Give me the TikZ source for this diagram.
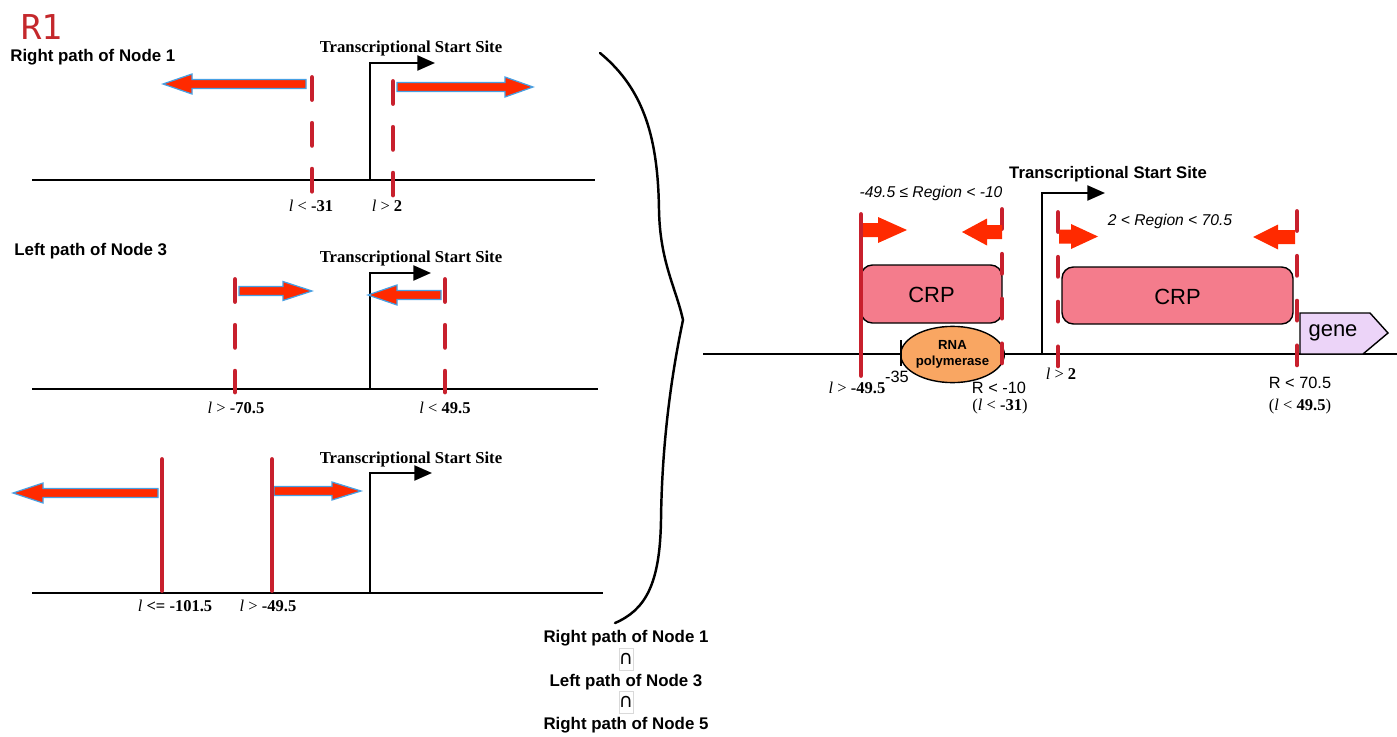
\documentclass[tikz,border=0pt]{standalone}
\usepackage{fontspec}
\setmainfont{Liberation Serif}
\setsansfont{Liberation Sans}
\newfontfamily\monofont{DejaVu Sans Mono}
\newfontfamily\symfont{DejaVu Sans}
\usepackage{tikz}
\usetikzlibrary{positioning, shapes.geometric, arrows.meta, calc}
\definecolor{cutred}{RGB}{200,32,45}
\definecolor{arrowred}{RGB}{255,42,0}
\definecolor{arrowblue}{RGB}{70,160,228}
\definecolor{crppink}{RGB}{244,124,140}
\definecolor{rnaporange}{RGB}{249,166,98}
\definecolor{genelilac}{RGB}{236,212,248}
\definecolor{labelred}{RGB}{196,40,44}
% block arrow: [style]{x from}{x to}{y}{half shaft}{half head}{head length}
\newcommand{\blockarrow}[7][]{%
  \pgfmathsetmacro{\hx}{#3>#2 ? #3-#7 : #3+#7}%
  \filldraw[#1] (#2,#4-#5) -- (\hx,#4-#5) -- (\hx,#4-#6) -- (#3,#4)
    -- (\hx,#4+#6) -- (\hx,#4+#5) -- (#2,#4+#5) -- cycle;}

\begin{document}
\begin{tikzpicture}[x=0.02cm, y=-0.02cm,
  strand/.style={line width=1.7pt},
  tssline/.style={line width=1.2pt, -{Triangle[length=10pt, width=8.5pt]}},
  cutline/.style={cutred, line width=2.8pt, line cap=round},
  cutdash/.style={cutline, dash pattern=on 12.5pt off 13.6pt},
  cutdashR/.style={cutline, dash pattern=on 10.8pt off 14.7pt},
  bluearrow/.style={fill=arrowred, draw=arrowblue, line width=0.7pt},
  redarrow/.style={fill=arrowred, draw=none},
  pathtitle/.style={font=\sffamily\bfseries\fontsize{9.6}{11}\selectfont, inner sep=0pt},
  tsstitle/.style={font=\bfseries\fontsize{9.5}{11}\selectfont, inner sep=0pt},
  tssright/.style={font=\sffamily\bfseries\fontsize{9.5}{11}\selectfont, inner sep=0pt},
  cutlabel/.style={font=\fontsize{9.4}{11}\selectfont, inner sep=0pt},
  sflabel/.style={font=\sffamily\fontsize{9.3}{11}\selectfont, inner sep=0pt},
  regionlabel/.style={font=\sffamily\itshape\fontsize{8.9}{11}\selectfont, inner sep=0pt},
  capbox/.style={draw=black!15, line width=0.4pt, font=\symfont\fontsize{11}{12}\selectfont,
    minimum width=8pt, minimum height=12.5pt, inner sep=0pt},
  crpbox/.style={fill=crppink, draw=black, line width=0.8pt, rounded corners=6.5pt},
  crptext/.style={font=\sffamily\fontsize{12.5}{14}\selectfont, inner sep=0pt},
  rnap/.style={ellipse, fill=rnaporange, draw=black, line width=0.8pt, minimum width=56pt,
    minimum height=32pt, inner sep=0pt, align=center,
    font=\sffamily\bfseries\fontsize{7.5}{9}\selectfont},
  genebox/.style={fill=genelilac, draw=black, line width=0.8pt}]
\useasboundingbox (0,0) rectangle (1397,737);

% Panel label
\node[font=\monofont\fontsize{19.5}{20}\selectfont, text=labelred, inner sep=0pt] (rone) at (41.5,27.5) {R1};

% ---------- left panels ----------
% DNA strands
\foreach \y/\xe in {180/595, 389/598, 593/603} {
  \draw[strand] (32,\y) -- (\xe,\y);
}
% Transcriptional start sites
\foreach \i/\y/\yt/\xt/\yl in {A/180/63/435/48.5, B/389/273/431/258, C/593/473/432/459.5} {
  \coordinate (tss\i) at (370,\y);
  \draw[tssline] (tss\i) |- (\xt,\yt);
  \node[tsstitle] (tsslab\i) at (411,\yl) {Transcriptional Start Site};
}

% Right path of Node 1
\node[pathtitle, anchor=west] (pathA) at (10,57) {Right path of Node 1};
\blockarrow[bluearrow]{306}{163}{84}{4.5}{10}{29}
\blockarrow[bluearrow]{397}{533}{87}{4.5}{10}{28}
\draw[cutdash] (312,77.5) -- (312,192);
\draw[cutdash] (393,81.5) -- (393,195);
\node[cutlabel] (cutA1) at (311,206) {\textit{l} < \textbf{-31}};
\node[cutlabel] (cutA2) at (387,206) {\textit{l} > \textbf{2}};

% Left path of Node 3
\node[pathtitle, anchor=west] (pathB) at (14,251) {Left path of Node 3};
\blockarrow[bluearrow]{239}{312}{291}{4.5}{9.5}{29}
\blockarrow[bluearrow]{441}{368}{295}{4.5}{10}{29}
\draw[cutdash] (235,279.5) -- (235,392);
\draw[cutdash] (445,279.5) -- (445,392);
\node[cutlabel] (cutB1) at (236,408) {\textit{l} > \textbf{-70.5}};
\node[cutlabel] (cutB2) at (445,408) {\textit{l} < \textbf{49.5}};

% Right path of Node 5
\blockarrow[bluearrow]{158}{13}{493}{4.5}{10}{30}
\blockarrow[bluearrow]{274}{361}{491}{4.5}{9}{29}
\draw[cutline] (162,459.5) -- (162,590.5);
\draw[cutline] (272,459.5) -- (272,590.5);
\node[cutlabel] (cutC1) at (175,606) {\textit{l} \textbf{<= -101.5}};
\node[cutlabel] (cutC2) at (268,606) {\textit{l} > \textbf{-49.5}};

% Brace
\draw[line width=1.4pt, line cap=round] (600,53) .. controls (645,90) and (658,140) .. (659,210)
  .. controls (660,262) and (676,288) .. (683,320)
  .. controls (672,372) and (662,440) .. (661,520)
  .. controls (660,585) and (645,610) .. (615,623);

% Intersection
\node[pathtitle] (capA) at (626,638) {Right path of Node 1};
\node[capbox] (capB) at (626,659) {∩};
\node[pathtitle] (capC) at (626,682) {Left path of Node 3};
\node[capbox] (capD) at (626,702) {∩};
\node[pathtitle] (capE) at (626,725) {Right path of Node 5};

% ---------- right panel ----------
\draw[strand, line width=1.5pt] (703,354) -- (1397,354);
\draw[crpbox] (861,265) rectangle (1002,323);
\node[crptext] (crpA) at (931.5,295) {CRP};
\draw[crpbox] (1062,267) rectangle (1293,324);
\node[crptext] (crpB) at (1177.5,296.5) {CRP};
\node[rnap] (rnap) at (952.5,354.5) {RNA\\polymerase};
\draw[line width=1.3pt] (901,340) -- (901,366);
\node[sflabel] (minus35) at (897,377) {-35};
\filldraw[genebox] (1300,354) -- (1300,313) -- (1370,313) -- (1388,333) -- (1363,354) -- cycle;
\node[crptext] (gene) at (1333,333) {gene};
\coordinate (tssR) at (1042,354);
\draw[tssline] (tssR) |- (1105,193);
\node[tssright] (tsslabR) at (1108,174) {Transcriptional Start Site};
\node[regionlabel] (regA) at (931,193) {-49.5 ≤ Region < -10};
\node[regionlabel] (regB) at (1170,221) {2 < Region < 70.5};
% binding region limits
\draw[cutline] (861,214.5) -- (861,375.5);
\foreach \x/\ya/\yb in {1002/209.5/366, 1058/212.5/370, 1297/211.5/370} {
  \draw[cutdashR] (\x,\ya) -- (\x,\yb);
}
\blockarrow[redarrow]{863}{907}{230}{7}{13}{29}
\blockarrow[redarrow]{1002}{962}{232}{7}{13.5}{25}
\blockarrow[redarrow]{1059}{1098}{236.5}{7}{12.5}{27}
\blockarrow[redarrow]{1295}{1253}{237}{7}{12.5}{25}
\node[cutlabel] (cutR1) at (857,388) {\textit{l} > \textbf{-49.5}};
\node[sflabel] (cutR2) at (999,388) {R < -10};
\node[cutlabel] (cutR3) at (1000,407) {(\textit{l} < \textbf{-31})};
\node[cutlabel] (cutR4) at (1061,374) {\textit{l} > \textbf{2}};
\node[sflabel] (cutR5) at (1300,383) {R < 70.5};
\node[cutlabel] (cutR6) at (1300,407) {(\textit{l} < \textbf{49.5})};
\end{tikzpicture}
\end{document}
